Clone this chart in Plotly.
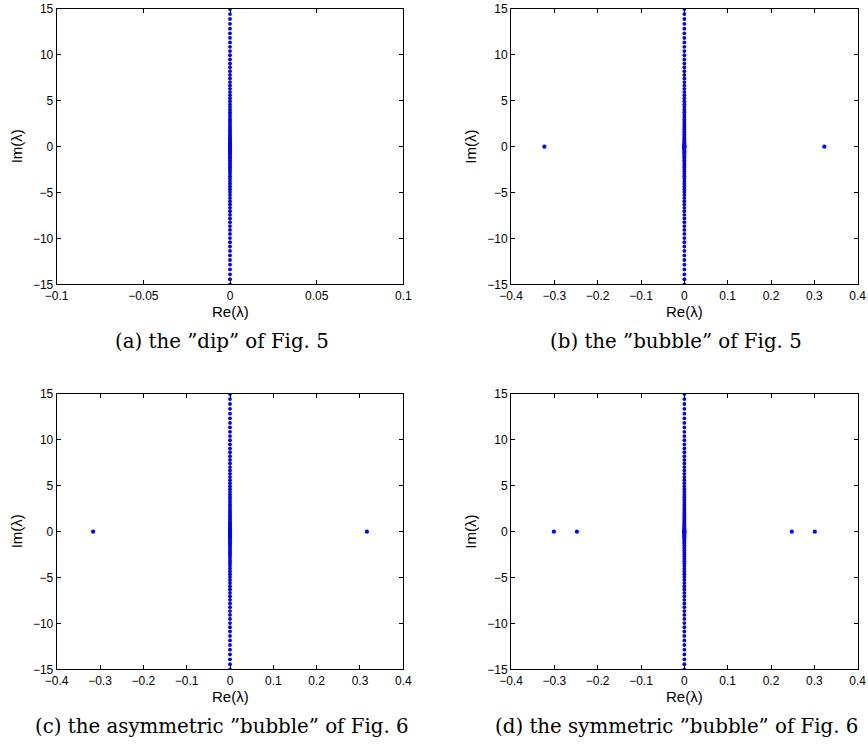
import plotly.graph_objects as go

# Imaginary parts of the (discretised) continuous spectrum on the imaginary axis
IM_CONT = [
    -15.00, -14.45, -13.91, -13.38, -12.86, -12.35, -11.85, -11.36, -10.88, -10.42,
    -9.96, -9.51, -9.07, -8.65, -8.23, -7.82, -7.43, -7.04, -6.67, -6.30,
    -5.95, -5.60, -5.27, -4.94, -4.63, -4.33, -4.03, -3.75, -3.48, -3.22,
    -2.96, -2.72, -2.49, -2.27, -2.06, -1.86, -1.67, -1.49, -1.32, -1.16,
    -1.01, -0.87, -0.74, -0.62, -0.51, -0.42, -0.33, -0.25, -0.19, -0.13,
    -0.08, -0.05, -0.02, -0.01, 0.00,
    0.01, 0.02, 0.05, 0.08, 0.13, 0.19, 0.25, 0.33, 0.42, 0.51,
    0.62, 0.74, 0.87, 1.01, 1.16, 1.32, 1.49, 1.67, 1.86, 2.06,
    2.27, 2.49, 2.72, 2.96, 3.22, 3.48, 3.75, 4.03, 4.33, 4.63,
    4.94, 5.27, 5.60, 5.95, 6.30, 6.67, 7.04, 7.43, 7.82, 8.23,
    8.65, 9.07, 9.51, 9.96, 10.42, 10.88, 11.36, 11.85, 12.35, 12.86,
    13.38, 13.91, 14.45, 15.00,
]
RE_CONT = [0.0] * len(IM_CONT)

# Isolated (real) eigenvalues per panel
RE_A = []
RE_B = [-0.323, 0.323]
RE_C = [-0.316, 0.316]
RE_D = [-0.301, -0.248, 0.248, 0.301]

X_RANGES = [[-0.1, 0.1], [-0.4, 0.4], [-0.4, 0.4], [-0.4, 0.4]]
X_DTICK = [0.05, 0.1, 0.1, 0.1]
Y_RANGE = [-15, 15]
Y_DTICK = 5

CAPTIONS = [
    "(a) the \u201ddip\u201d of Fig. 5",
    "(b) the \u201dbubble\u201d of Fig. 5",
    "(c) the asymmetric \u201dbubble\u201d of Fig. 6",
    "(d) the symmetric \u201dbubble\u201d of Fig. 6",
]

W, H = 868, 744
# pixel boxes in window coords (left, right, top, bottom)
BOXES = [
    (56.7, 403.3, 9, 284.3),
    (511.0, 857.7, 9, 284.3),
    (56.7, 403.3, 394, 669.3),
    (511.0, 857.7, 394, 669.3),
]
CAP_X = [222, 676, 222, 676]


def px(xw):
    return xw / W


def py(yw):
    return 1 - yw / H


BLUE = "#0000FF"
SANS = "Liberation Sans, Arial, Helvetica, sans-serif"
SERIF = "DejaVu Serif, serif"

fig = go.Figure()
extra = [RE_A, RE_B, RE_C, RE_D]
annotations = []
for i, (l, r, t, b) in enumerate(BOXES):
    xa = "x" if i == 0 else f"x{i+1}"
    ya = "y" if i == 0 else f"y{i+1}"
    fig.add_trace(go.Scatter(
        x=RE_CONT, y=IM_CONT, mode="markers", xaxis=xa, yaxis=ya,
        marker=dict(color=BLUE, size=3.8, line=dict(width=0)),
        showlegend=False, hoverinfo="skip"))
    if extra[i]:
        fig.add_trace(go.Scatter(
            x=extra[i], y=[0.0] * len(extra[i]), mode="markers", xaxis=xa, yaxis=ya,
            marker=dict(color=BLUE, size=4.2, line=dict(width=0)),
            showlegend=False, hoverinfo="skip"))
    xdom = [px(l), px(r)]
    ydom = [py(b), py(t)]
    axcommon = dict(showline=True, linecolor="black", linewidth=1, mirror="allticks",
                    ticks="inside", ticklen=4, tickcolor="black", tickwidth=1,
                    showgrid=False, zeroline=False, automargin=False,
                    ticklabeloverflow="allow",
                    tickfont=dict(family=SANS, size=12, color="black"))
    fig.layout[("xaxis" if i == 0 else f"xaxis{i+1}")] = dict(
        domain=xdom, range=X_RANGES[i], dtick=X_DTICK[i], tick0=0,
        anchor=ya, **axcommon)
    fig.layout[("yaxis" if i == 0 else f"yaxis{i+1}")] = dict(
        domain=ydom, range=Y_RANGE, dtick=Y_DTICK, tick0=0,
        anchor=xa, **axcommon)
    cx = (l + r) / 2
    cy = (t + b) / 2
    annotations.append(dict(text="Re(\u03bb)", x=px(cx), y=py(b + 27.4),
                            xref="paper", yref="paper", showarrow=False,
                            xanchor="center", yanchor="middle",
                            font=dict(family=SANS, size=15, color="black")))
    annotations.append(dict(text="Im(\u03bb)", x=px(l - 40), y=py(cy),
                            xref="paper", yref="paper", showarrow=False, textangle=-90,
                            xanchor="center", yanchor="middle",
                            font=dict(family=SANS, size=15, color="black")))
    annotations.append(dict(text=CAPTIONS[i], x=px(CAP_X[i]), y=py(b + 57),
                            xref="paper", yref="paper", showarrow=False,
                            xanchor="center", yanchor="middle",
                            font=dict(family=SERIF, size=19.8, color="black")))

fig.update_layout(
    template="none",
    width=W, height=H, autosize=False,
    margin=dict(l=0, r=0, t=0, b=0, pad=0),
    paper_bgcolor="white", plot_bgcolor="white",
    annotations=annotations,
)

fig.write_html("out.html",
               config={"displayModeBar": False},
               post_script="document.body.style.margin='0';document.body.style.overflow='hidden';")
